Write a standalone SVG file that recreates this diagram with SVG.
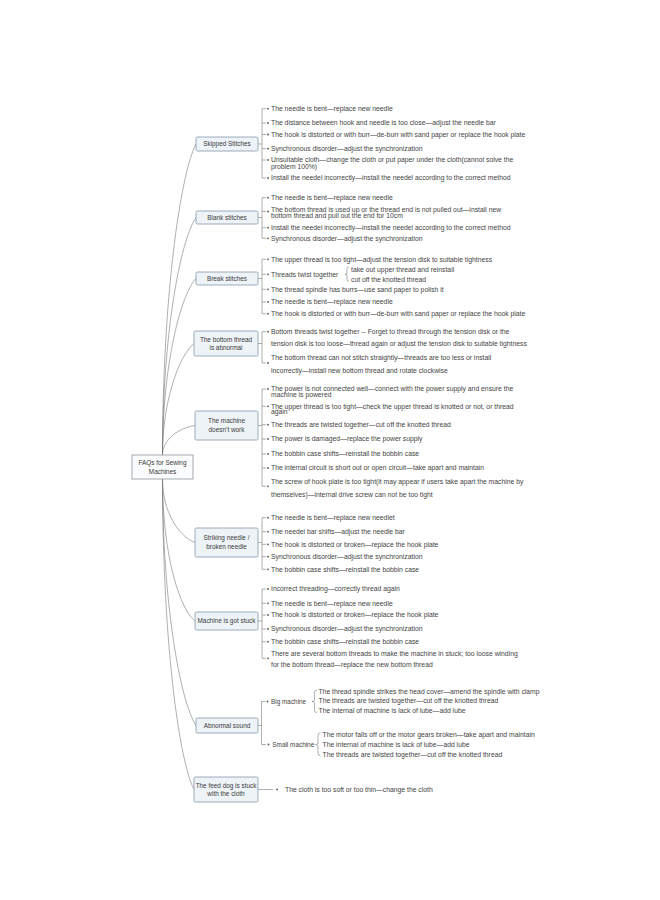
<svg xmlns="http://www.w3.org/2000/svg" width="660" height="900" viewBox="0 0 660 900">
<style>
.bg{fill:#ffffff}
.c{fill:none;stroke:#7a7a7a;stroke-width:0.6}
.nb{fill:#eef3f8;stroke:#8797aa;stroke-width:0.8}
.rb{fill:#fbfcfd;stroke:#8f969e;stroke-width:0.8}
.nt{font-family:"Liberation Sans",Arial,sans-serif;font-size:6.4px;fill:#3a3a3a;text-anchor:middle}
.l{font-family:"Liberation Sans",Arial,sans-serif;font-size:6.8px;fill:#444444}
.s{font-family:"Liberation Sans",Arial,sans-serif;font-size:6.4px;fill:#444444}
.d{fill:#555555}
</style>
<rect class="bg" x="0" y="0" width="660" height="900"/>

<g id="connectors">
<path class="c" d="M162.5,455 C162.5,299.5 180,175 196,144"/>
<path class="c" d="M162.5,455 C162.5,336 180,241 196,217.5"/>
<path class="c" d="M162.5,455 C162.5,367 180,296 196,278.5"/>
<path class="c" d="M162.5,455 C162.5,399 180,354.5 194,343.5"/>
<path class="c" d="M162.5,455 C162.5,440 178,428 195,425.5"/>
<path class="c" d="M162.5,479 C162.5,511 178,536 195,542.5"/>
<path class="c" d="M162.5,479 C162.5,550 178,607 195,621"/>
<path class="c" d="M162.5,479 C162.5,602 180,701 196,725.5"/>
<path class="c" d="M162.5,479 C162.5,634 178,758 194,789.5"/>
<!-- brackets -->
<path class="c" d="M258,144 H262 M266,108.7 H262 V178 H266 M262,123 H266 M262,134.5 H266 M262,148.7 H266 M262,160 H266"/>
<path class="c" d="M258,217.5 H262 M266,197.7 H262 V238.3 H266 M262,211.5 H266 M262,227.7 H266"/>
<path class="c" d="M258,278.5 H262 M266,259.3 H262 V313.7 H266 M262,274.3 H266 M262,289.3 H266 M262,302 H266"/>
<path class="c" d="M258,343.5 H262 M266,331.7 H262 V363 H266"/>
<path class="c" d="M258,425.5 H262 M266,389 H262 V486.3 H266 M262,406.3 H266 M262,424.7 H266 M262,439 H266 M262,454 H266 M262,468 H266"/>
<path class="c" d="M258,542.5 H262 M266,517.7 H262 V569.3 H266 M262,531.7 H266 M262,544.3 H266 M262,556.7 H266"/>
<path class="c" d="M258,621 H262 M266,589 H262 V658.3 H266 M262,603.3 H266 M262,615 H266 M262,629 H266 M262,641.7 H266"/>
<path class="c" d="M258,725.5 H261.5 M265.5,701.5 H261.5 V744.5 H266"/>
<path class="c" d="M258,789.5 H273"/>
<!-- braces -->
<path class="c" d="M349,266.8 Q347,266.8 347,268.8 L347,272.8 Q347,274.3 345,274.3 Q347,274.3 347,275.8 L347,279.3 Q347,281.3 349,281.3"/>
<path class="c" d="M317,690.3 Q314.5,690.3 314.5,692.5 L314.5,699.7 Q314.5,701.5 312,701.5 Q314.5,701.5 314.5,703.3 L314.5,710.3 Q314.5,712.6 317,712.6"/>
<path class="c" d="M320.5,732.8 Q318,732.8 318,735 L318,742.6 Q318,744.5 315.5,744.5 Q318,744.5 318,746.4 L318,753.5 Q318,755.8 320.5,755.8"/>
</g>

<g id="root">
<rect class="rb" x="132" y="455" width="61" height="24"/>
<text class="nt" x="162.5" y="465">FAQs for Sewing</text>
<text class="nt" x="162.5" y="474">Machines</text>
</g>

<g id="skipped">
<rect class="nb" x="196" y="137" width="62" height="14" rx="1.5"/>
<text class="nt" x="227" y="146.3">Skipped Stitches</text>
<circle class="d" cx="268" cy="108.7" r="0.9"/><text class="l" x="271" y="111">The needle is bent—replace new needle</text>
<circle class="d" cx="268" cy="123" r="0.9"/><text class="l" x="271" y="125.3">The distance between hook and needle is too close—adjust the needle bar</text>
<circle class="d" cx="268" cy="134.5" r="0.9"/><text class="l" x="271" y="136.8">The hook is distorted or with burr—de-burr with sand paper or replace the hook plate</text>
<circle class="d" cx="268" cy="148.7" r="0.9"/><text class="l" x="271" y="151">Synchronous disorder—adjust the synchronization</text>
<circle class="d" cx="268" cy="160" r="0.9"/><text class="l" x="271" y="162">Unsuitable cloth—change the cloth or put paper under the cloth(cannot solve the</text>
<text class="l" x="271" y="168.6">problem 100%)</text>
<circle class="d" cx="268" cy="178" r="0.9"/><text class="l" x="271" y="180.3">Install the needel incorrectly—install the needel according to the correct method</text>
</g>

<g id="blank">
<rect class="nb" x="196" y="211" width="62" height="13" rx="1.5"/>
<text class="nt" x="227" y="219.8">Blank stitches</text>
<circle class="d" cx="268" cy="197.7" r="0.9"/><text class="l" x="271" y="200">The needle is bent—replace new needle</text>
<circle class="d" cx="268" cy="211.5" r="0.9"/><text class="l" x="271" y="211.5">The bottom thread is used up or the thread end is not pulled out—install new</text>
<text class="l" x="271" y="218.2">bottom thread and pull out the end for 10cm</text>
<circle class="d" cx="268" cy="227.7" r="0.9"/><text class="l" x="271" y="230">Install the needel incorrectly—install the needel according to the correct method</text>
<circle class="d" cx="268" cy="238.3" r="0.9"/><text class="l" x="271" y="240.6">Synchronous disorder—adjust the synchronization</text>
</g>

<g id="break">
<rect class="nb" x="196" y="272" width="62" height="13" rx="1.5"/>
<text class="nt" x="227" y="280.8">Break stitches</text>
<circle class="d" cx="268" cy="259.3" r="0.9"/><text class="l" x="271" y="261.6">The upper thread is too tight—adjust the tension disk to suitable tightness</text>
<circle class="d" cx="268" cy="274.3" r="0.9"/><text class="l" x="271" y="276.6">Threads twist together</text>
<text class="l" x="351" y="271.6">take out upper thread and reinstall</text>
<text class="l" x="351" y="281.6">cut off the knotted thread</text>
<circle class="d" cx="268" cy="289.3" r="0.9"/><text class="l" x="271" y="291.6">The thread spindle has burrs—use sand paper to polish it</text>
<circle class="d" cx="268" cy="302" r="0.9"/><text class="l" x="271" y="304.3">The needle is bent—replace new needle</text>
<circle class="d" cx="268" cy="313.7" r="0.9"/><text class="l" x="271" y="316">The hook is distorted or with burr—de-burr with sand paper or replace the hook plate</text>
</g>

<g id="bottom-thread">
<rect class="nb" x="194" y="331" width="64" height="25" rx="1.5"/>
<text class="nt" x="226" y="341.5">The bottom thread</text>
<text class="nt" x="226" y="350">is abnormal</text>
<circle class="d" cx="268" cy="331.7" r="0.9"/><text class="l" x="271" y="334">Bottom threads twist together -- Forget to thread through the tension disk or the</text>
<text class="l" x="271" y="345.6">tension disk is too loose—thread again or adjust the tension disk to suitable tightness</text>
<circle class="d" cx="268" cy="363" r="0.9"/><text class="l" x="271" y="360">The bottom thread can not stitch straightly—threads are too less or install</text>
<text class="l" x="271" y="373">incorrectly—install new bottom thread and rotate clockwise</text>
</g>

<g id="machine">
<rect class="nb" x="195" y="411" width="63" height="29" rx="1.5"/>
<text class="nt" x="226.5" y="423">The machine</text>
<text class="nt" x="226.5" y="432">doesn’t work</text>
<circle class="d" cx="268" cy="389" r="0.9"/><text class="l" x="271" y="391.2">The power is not connected well—connect with the power supply and ensure the</text>
<text class="l" x="271" y="397">machine is powered</text>
<circle class="d" cx="268" cy="406.3" r="0.9"/><text class="l" x="271" y="408.5">The upper thread is too tight—check the upper thread is knotted or not, or thread</text>
<text class="l" x="271" y="413.8">again</text>
<circle class="d" cx="268" cy="424.7" r="0.9"/><text class="l" x="271" y="427">The threads are twisted together—cut off the knotted thread</text>
<circle class="d" cx="268" cy="439" r="0.9"/><text class="l" x="271" y="441.3">The power is damaged—replace the power supply</text>
<circle class="d" cx="268" cy="454" r="0.9"/><text class="l" x="271" y="456.3">The bobbin case shifts—reinstall the bobbin case</text>
<circle class="d" cx="268" cy="468" r="0.9"/><text class="l" x="271" y="470.3">The internal circuit is short out or open circuit—take apart and maintain</text>
<circle class="d" cx="268" cy="486.3" r="0.9"/><text class="l" x="271" y="484.3">The screw of hook plate is too tight(it may appear if users take apart the machine by</text>
<text class="l" x="271" y="497">themselves)—internal drive screw can not be too tight</text>
</g>

<g id="striking">
<rect class="nb" x="195" y="528" width="63" height="29" rx="1.5"/>
<text class="nt" x="226.5" y="540">Striking needle /</text>
<text class="nt" x="226.5" y="549">broken needle</text>
<circle class="d" cx="268" cy="517.7" r="0.9"/><text class="l" x="271" y="520">The needle is bent—replace new needlet</text>
<circle class="d" cx="268" cy="531.7" r="0.9"/><text class="l" x="271" y="534">The needel bar shifts—adjust the needle bar</text>
<circle class="d" cx="268" cy="544.3" r="0.9"/><text class="l" x="271" y="546.6">The hook is distorted or broken—replace the hook plate</text>
<circle class="d" cx="268" cy="556.7" r="0.9"/><text class="l" x="271" y="559">Synchronous disorder—adjust the synchronization</text>
<circle class="d" cx="268" cy="569.3" r="0.9"/><text class="l" x="271" y="571.6">The bobbin case shifts—reinstall the bobbin case</text>
</g>

<g id="stuck">
<rect class="nb" x="195" y="612" width="63" height="18" rx="1.5"/>
<text class="nt" x="226.5" y="623.3">Machine is got stuck</text>
<circle class="d" cx="268" cy="589" r="0.9"/><text class="l" x="271" y="591.3">Incorrect threading—correctly thread again</text>
<circle class="d" cx="268" cy="603.3" r="0.9"/><text class="l" x="271" y="605.6">The needle is bent—replace new needle</text>
<circle class="d" cx="268" cy="615" r="0.9"/><text class="l" x="271" y="617.3">The hook is distorted or broken—replace the hook plate</text>
<circle class="d" cx="268" cy="629" r="0.9"/><text class="l" x="271" y="631.3">Synchronous disorder—adjust the synchronization</text>
<circle class="d" cx="268" cy="641.7" r="0.9"/><text class="l" x="271" y="644">The bobbin case shifts—reinstall the bobbin case</text>
<circle class="d" cx="268" cy="658.3" r="0.9"/><text class="l" x="271" y="656.3">There are several bottom threads to make the machine in stuck; too loose winding</text>
<text class="l" x="271" y="667.3">for the bottom thread—replace the new bottom thread</text>
</g>

<g id="abnormal">
<rect class="nb" x="196" y="718" width="62" height="15" rx="1.5"/>
<text class="nt" x="227" y="727.8">Abnormal sound</text>
<circle class="d" cx="267.5" cy="701.5" r="0.9"/><text class="s" x="271" y="703.7">Big machine</text>
<text class="l" x="318.5" y="694">The thread spindle strikes the head cover—amend the spindle with clamp</text>
<text class="l" x="318.5" y="703.3">The threads are twisted together—cut off the knotted thread</text>
<text class="l" x="318.5" y="713.3">The internal of machine is lack of lube—add lube</text>
<circle class="d" cx="268.5" cy="744.5" r="0.9"/><text class="s" x="272.3" y="746.7">Small machine</text>
<text class="l" x="322.5" y="736.6">The motor falls off or the motor gears broken—take apart and maintain</text>
<text class="l" x="322.5" y="746.6">The internal of machine is lack of lube—add lube</text>
<text class="l" x="322.5" y="756.6">The threads are twisted together—cut off the knotted thread</text>
</g>

<g id="feed-dog">
<rect class="nb" x="194" y="777" width="64" height="25" rx="1.5"/>
<text class="nt" x="226" y="787.5">The feed dog is stuck</text>
<text class="nt" x="226" y="796">with the cloth</text>
<circle class="d" cx="277" cy="789.5" r="0.9"/><text class="l" x="285" y="791.8">The cloth is too soft or too thin—change the cloth</text>
</g>
</svg>
